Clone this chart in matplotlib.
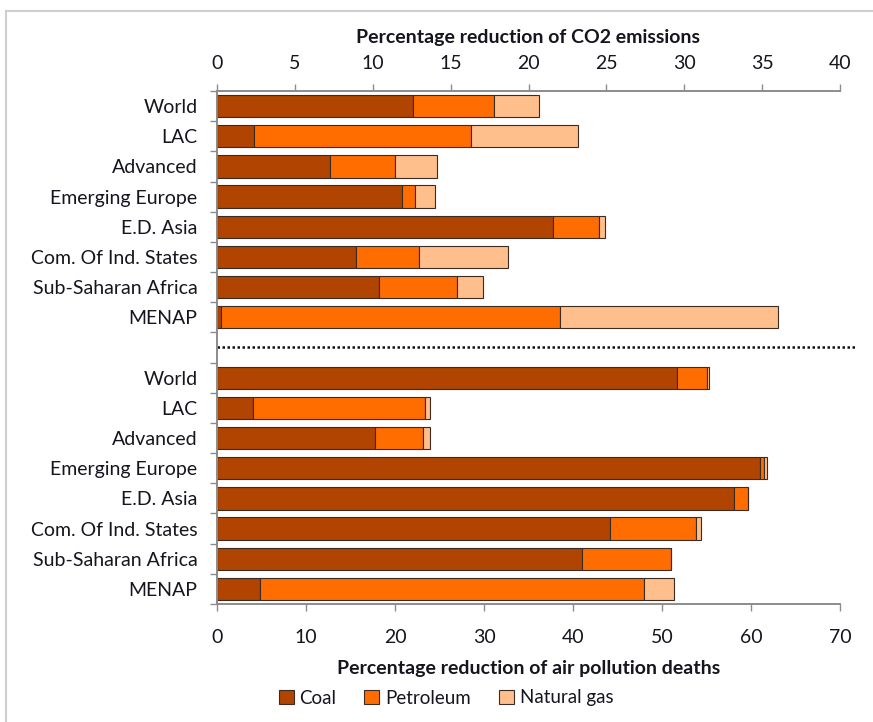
# Fuel-source breakdown: CO2 reduction (top) vs air pollution deaths (bottom)

import numpy as np
import matplotlib
matplotlib.use('Agg')
import matplotlib.pyplot as plt
from matplotlib.patches import Patch
from matplotlib.lines import Line2D

plt.rcParams['font.family'] = ['Lato', 'DejaVu Sans']

regions = ['World', 'LAC', 'Advanced', 'Emerging Europe', 'E.D. Asia',
           'Com. Of Ind. States', 'Sub-Saharan Africa', 'MENAP']

# segment sizes
co2_coal = [12.6, 2.4, 7.25, 11.85, 21.6, 8.9, 10.4, 0.25]
co2_pet = [5.2, 13.9, 4.15, 0.85, 2.9, 4.1, 5.0, 21.8]
co2_gas = [2.9, 6.9, 2.7, 1.3, 0.4, 5.7, 1.7, 14.0]

death_coal = [51.7, 4.1, 17.7, 61.0, 58.1, 44.2, 41.0, 4.8]
death_pet = [3.4, 19.3, 5.4, 0.5, 1.6, 9.6, 10.0, 43.2]
death_gas = [0.2, 0.5, 0.8, 0.3, 0.0, 0.6, 0.0, 3.4]

fuels = ['Coal', 'Petroleum', 'Natural gas']
colors = ['#B04400', '#FF6D00', '#FFBF8C']
EDGE = '#3a2c22'
TXT = '#15151f'
FS = 14

n = len(regions)
y_top = np.arange(n)
y_bot = np.arange(n) + n + 1
BH = 0.74

fig = plt.figure(figsize=(8.73, 7.22), dpi=100)
ax = fig.add_axes([217 / 873, 0.1634, (840 - 217) / 873, 0.7106])
ax2 = ax.twiny()

# bottom section: deaths on the bottom axis
left = np.zeros(n)
for vals, c in zip([death_coal, death_pet, death_gas], colors):
    ax.barh(y_bot, vals, left=left, height=BH, color=c, edgecolor=EDGE, linewidth=0.8)
    left = left + np.array(vals)

# top section: CO2 on the top axis
left = np.zeros(n)
for vals, c in zip([co2_coal, co2_pet, co2_gas], colors):
    ax2.barh(y_top, vals, left=left, height=BH, color=c, edgecolor=EDGE, linewidth=0.8)
    left = left + np.array(vals)

ax.set_xlim(0, 70)
ax2.set_xlim(0, 40)
ax.set_ylim(2 * n + 0.5, -0.5)
ax.set_xticks(np.arange(0, 71, 10))
ax2.set_xticks(np.arange(0, 41, 5))

ax.set_yticks(np.concatenate([y_top, y_bot]))
ax.set_yticklabels(regions + regions)
ax.set_yticks(np.arange(-0.5, 2 * n + 1, 1.0), minor=True)

for a in (ax, ax2):
    for s in a.spines.values():
        s.set_color('#8c8c8c')
        s.set_linewidth(1.2)
    a.spines['right'].set_visible(False)

ax.tick_params(axis='y', which='major', length=0, pad=14, labelsize=FS, labelcolor=TXT)
ax.tick_params(axis='y', which='minor', length=5, color='#8c8c8c', width=1)
ax.tick_params(axis='x', length=5, color='#8c8c8c', width=1, pad=13, labelsize=FS, labelcolor=TXT)
ax2.tick_params(axis='x', length=5, color='#8c8c8c', width=1, pad=9, labelsize=FS, labelcolor=TXT)

ax.set_xlabel('Percentage reduction of air pollution deaths', fontsize=FS,
              fontweight='bold', color=TXT, labelpad=10)
ax2.set_xlabel('Percentage reduction of CO2 emissions', fontsize=FS,
               fontweight='bold', color=TXT, labelpad=8)

# dotted separator between the two blocks
ax.axhline(n, xmin=0, xmax=1.027, color='#111111', linestyle=(0, (1, 1)),
           linewidth=1.8, clip_on=False)

handles = [Patch(facecolor=c, edgecolor=EDGE, linewidth=0.8) for c in colors]
fig.legend(handles, fuels, loc='center', bbox_to_anchor=(446 / 873, 1 - 698 / 722),
           ncol=3, frameon=False, fontsize=13.5, handlelength=0.8, handleheight=0.8,
           handletextpad=0.3, columnspacing=1.5, labelcolor=TXT)

# light frame at top/left like the source screenshot
fig.add_artist(Line2D([6 / 873, 6 / 873], [0, 1 - 11 / 722], color='#cfcfcf', linewidth=1.5))
fig.add_artist(Line2D([6 / 873, 1], [1 - 11 / 722, 1 - 11 / 722], color='#cfcfcf', linewidth=1.5))

fig.savefig('out.png', dpi=100)
